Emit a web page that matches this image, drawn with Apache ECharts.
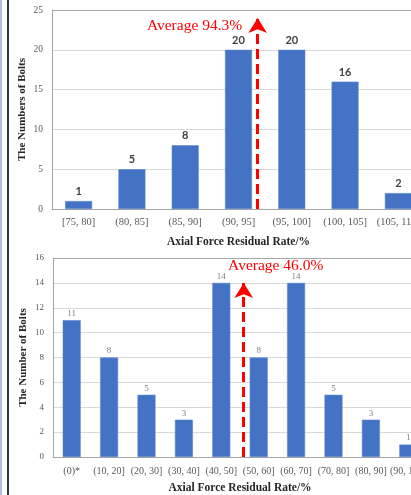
<!DOCTYPE html>
<html><head><meta charset="utf-8">
<script src="https://cdn.jsdelivr.net/npm/echarts@6/dist/echarts.min.js"></script>
<style>html,body{margin:0;padding:0;background:#fff;overflow:hidden;width:411px;height:495px}#c{width:440px;height:495px}</style>
</head><body><div id="c"></div>
<script>
// ---- data (top chart) ----
const cats1 = ['[75, 80]','(80, 85]','(85, 90]','(90, 95]','(95, 100]','(100, 105]','(105, 110]'];
const vals1 = [1, 5, 8, 20, 20, 16, 2];
const yMax1 = 25, yStep1 = 5;
const avg1Text = 'Average 94.3%';
const avg1Pos = 94.3;           // on a 75..110 scale spanning the categories
const avg1Range = [75, 110];
const avg1Top = 24;             // arrow tip (count units)
const avg1TextY = 23;

// ---- data (bottom chart) ----
const cats2 = ['(0)*','(10, 20]','(20, 30]','(30, 40]','(40, 50]','(50, 60]','(60, 70]','(70, 80]','(80, 90]','(90, 100]'];
const vals2 = [11, 8, 5, 3, 14, 8, 14, 5, 3, 1];
const yMax2 = 16, yStep2 = 2;
const avg2Text = 'Average 46.0%';
const avg2Pos = 51;             // arrow position as drawn, on a 0..100 scale
const avg2Range = [0, 100];
const avg2Top = 14;
const avg2TextY = 15.4;

const SERIF = "'Liberation Serif','Times New Roman',serif";
const RED = '#ff0000';
const BLUE = '#4472C4';

function splitColors(n){ const a=[]; for(let i=0;i<n;i++) a.push('#d9d9d9'); a[n-1]='#a6a6a6'; return a; }

const chart = echarts.init(document.getElementById('c'), null, {renderer:'canvas'});
chart.setOption({
  animation:false,
  backgroundColor:'#ffffff',
  graphic:[
    {type:'rect', left:0, top:0, shape:{width:2, height:495}, style:{fill:'#aec1da'}},
    {type:'rect', left:7, top:0, shape:{width:2, height:495}, style:{fill:'#1f3d5a'}}
  ],
  grid:[
    {left:52, top:10, width:373, height:199},
    {left:53, top:258, width:374, height:200}
  ],
  xAxis:[
    {type:'category', gridIndex:0, data:cats1,
     axisLine:{lineStyle:{color:'#a6a6a6'}}, axisTick:{show:false},
     axisLabel:{fontFamily:SERIF, fontSize:10.5, color:'#595959', margin:8, interval:0},
     name:'Axial Force Residual Rate/%', nameLocation:'middle', nameGap:27, nameMoveOverlap:false,
     nameTextStyle:{fontFamily:SERIF, fontSize:11.5, fontWeight:'bold', color:'#262626'}},
    {type:'category', gridIndex:1, data:cats2,
     axisLine:{lineStyle:{color:'#a6a6a6'}}, axisTick:{show:false},
     axisLabel:{fontFamily:SERIF, fontSize:10, color:'#595959', margin:9, interval:0},
     name:'Axial Force Residual Rate/%', nameLocation:'middle', nameGap:25, nameMoveOverlap:false,
     nameTextStyle:{fontFamily:SERIF, fontSize:11.5, fontWeight:'bold', color:'#262626'}},
    {type:'value', gridIndex:0, min:avg1Range[0], max:avg1Range[1], show:false},
    {type:'value', gridIndex:1, min:avg2Range[0], max:avg2Range[1], show:false}
  ],
  yAxis:[
    {type:'value', gridIndex:0, min:0, max:yMax1, interval:yStep1,
     axisLine:{show:true, lineStyle:{color:'#a6a6a6'}}, axisTick:{show:false},
     axisLabel:{fontFamily:SERIF, fontSize:9.5, color:'#595959', margin:9},
     splitLine:{lineStyle:{color:splitColors(yMax1/yStep1+1)}},
     name:'The Numbers of Bolts', nameLocation:'middle', nameGap:24, nameMoveOverlap:false,
     nameTextStyle:{fontFamily:SERIF, fontSize:11, fontWeight:'bold', color:'#262626'}},
    {type:'value', gridIndex:1, min:0, max:yMax2, interval:yStep2,
     axisLine:{show:true, lineStyle:{color:'#a6a6a6'}}, axisTick:{show:false},
     axisLabel:{fontFamily:SERIF, fontSize:9, color:'#595959', margin:9},
     splitLine:{lineStyle:{color:splitColors(yMax2/yStep2+1)}},
     name:'The Number of Bolts', nameLocation:'middle', nameGap:24, nameMoveOverlap:false,
     nameTextStyle:{fontFamily:SERIF, fontSize:11, fontWeight:'bold', color:'#262626'}}
  ],
  series:[
    {type:'bar', xAxisIndex:0, yAxisIndex:0, data:vals1, barWidth:27,
     itemStyle:{color:BLUE, borderColor:'#5a86d0', borderWidth:0.6},
     label:{show:true, position:'top', distance:4, fontFamily:"'Lato','Open Sans',sans-serif", fontSize:11, fontWeight:'bold', color:'#404040'}},
    {type:'bar', xAxisIndex:1, yAxisIndex:1, data:vals2, barWidth:18,
     itemStyle:{color:BLUE, borderColor:'#5a86d0', borderWidth:0.6},
     label:{show:true, position:'top', distance:2, fontFamily:SERIF, fontSize:9, color:'#808080'}},
    {type:'line', xAxisIndex:2, yAxisIndex:0, data:[], silent:true,
     markLine:{silent:true, animation:false, symbol:['none','arrow'], symbolSize:[14,15],
       lineStyle:{color:RED, width:3, type:[10,5]}, label:{show:false},
       data:[[{coord:[avg1Pos,0]},{coord:[avg1Pos,avg1Top]}]]},
     markPoint:{silent:true, symbol:'circle', symbolSize:1, itemStyle:{color:'rgba(0,0,0,0)'},
       data:[{coord:[avg1Pos, avg1TextY], label:{show:true, formatter:avg1Text, position:'left', distance:15,
         fontFamily:SERIF, fontSize:15.5, color:RED}}]}},
    {type:'line', xAxisIndex:3, yAxisIndex:1, data:[], silent:true,
     markLine:{silent:true, animation:false, symbol:['none','arrow'], symbolSize:[14,15],
       lineStyle:{color:RED, width:3, type:[10,5]}, label:{show:false},
       data:[[{coord:[avg2Pos,0]},{coord:[avg2Pos,avg2Top]}]]},
     markPoint:{silent:true, symbol:'circle', symbolSize:1, itemStyle:{color:'rgba(0,0,0,0)'},
       data:[{coord:[avg2Pos, avg2TextY], label:{show:true, formatter:avg2Text, position:'inside', offset:[32,0],
         fontFamily:SERIF, fontSize:15.5, color:RED}}]}}
  ]
});
</script></body></html>
